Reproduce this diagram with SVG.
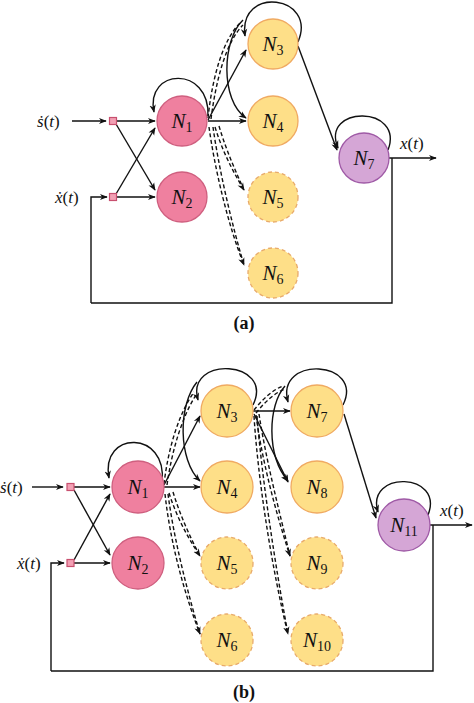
<svg xmlns="http://www.w3.org/2000/svg" width="474" height="703" viewBox="0 0 474 703">
<style>
.e{fill:none;stroke:#111;stroke-width:1.4}
.d{fill:none;stroke:#111;stroke-width:1.4;stroke-dasharray:4 2.5}
.pk{fill:#ef809f;stroke:#cf5f7f;stroke-width:1.3}
.yl{fill:#fedf88;stroke:#f0aa62;stroke-width:1.3}
.yd{fill:#fedf88;stroke:#e8aa6a;stroke-width:1.3;stroke-dasharray:4 3}
.pu{fill:#d5a6d6;stroke:#9f5aa6;stroke-width:1.3}
.sq{fill:#f2a0b4;stroke:#c8506f;stroke-width:1.2}
text{font-family:"Liberation Serif","DejaVu Serif","Times New Roman",serif;fill:#111}
.lbl{font-style:italic;font-size:21px;text-anchor:middle}
.sub{font-style:normal;font-size:14px}
.sig{font-size:17px}
.it{font-style:italic}
.cap{font-weight:bold;font-size:18px;text-anchor:middle}
</style>
<defs>
<marker id="ah" viewBox="0 0 10 10" refX="9" refY="5" markerWidth="8" markerHeight="8" orient="auto" markerUnits="userSpaceOnUse">
<path d="M0,1 L10,5 L0,9 L3,5 z" fill="#111"/>
</marker>
</defs>

<g id="connectors">
<!-- panel a -->
<path class="e" d="M72,121 L106,121" marker-end="url(#ah)"/>
<path class="e" d="M91,303 L91,197 L107,197" marker-end="url(#ah)"/>
<path class="e" d="M392,158 L392,303 L91,303"/>
<path class="e" d="M389,158 L436,158" marker-end="url(#ah)"/>
<path class="e" d="M117,121 L155,121" marker-end="url(#ah)"/>
<path class="e" d="M116,124 L155,190" marker-end="url(#ah)"/>
<path class="e" d="M116,194 L155,128" marker-end="url(#ah)"/>
<path class="e" d="M117,197 L155,197" marker-end="url(#ah)"/>
<path class="e" d="M208,116 C210,65 145,68 154,112" marker-end="url(#ah)"/>
<path class="e" d="M208,120 L246,50" marker-end="url(#ah)"/>
<path class="e" d="M208,121 L246,121" marker-end="url(#ah)"/>
<path class="e" d="M298,42 C318,-5 238,-15 245,36" marker-end="url(#ah)"/>
<path class="e" d="M243,20 C222,40 220,100 246,118" marker-end="url(#ah)"/>
<path class="d" d="M208,118 C212,80 222,40 241,22"/>
<path class="d" d="M211,119 C216,80 226,42 243,25"/>
<path class="d" d="M215,127 C222,150 232,170 244,190" marker-end="url(#ah)"/>
<path class="d" d="M219,126 C226,150 236,172 244,190"/>
<path class="d" d="M209,127 C215,170 228,225 244,265" marker-end="url(#ah)"/>
<path class="d" d="M213,127 C219,170 232,225 244,265"/>
<path class="e" d="M298,46 L337,150" marker-end="url(#ah)"/>
<path class="e" d="M388,150 C405,105 320,105 338,148" marker-end="url(#ah)"/>

<!-- panel b -->
<path class="e" d="M32,487 L63,487" marker-end="url(#ah)"/>
<path class="e" d="M51,671 L51,563 L64,563" marker-end="url(#ah)"/>
<path class="e" d="M433,525 L433,671 L51,671"/>
<path class="e" d="M430,525 L472,525" marker-end="url(#ah)"/>
<path class="e" d="M74,487 L110,487" marker-end="url(#ah)"/>
<path class="e" d="M74,490 L110,555" marker-end="url(#ah)"/>
<path class="e" d="M74,560 L110,494" marker-end="url(#ah)"/>
<path class="e" d="M74,563 L110,563" marker-end="url(#ah)"/>
<path class="e" d="M162,482 C168,430 100,430 109,478" marker-end="url(#ah)"/>
<path class="e" d="M164,485 L200,416" marker-end="url(#ah)"/>
<path class="e" d="M164,487 L200,487" marker-end="url(#ah)"/>
<path class="e" d="M253,405 C275,360 185,355 198,400" marker-end="url(#ah)"/>
<path class="e" d="M197,382 C178,405 178,460 200,481" marker-end="url(#ah)"/>
<path class="d" d="M164,484 C168,450 178,415 194,392"/>
<path class="d" d="M167,485 C172,450 182,417 196,395"/>
<path class="d" d="M169,493 C176,515 186,535 200,556" marker-end="url(#ah)"/>
<path class="d" d="M173,492 C180,515 190,537 200,556"/>
<path class="d" d="M165,494 C170,540 183,590 200,634" marker-end="url(#ah)"/>
<path class="d" d="M168,494 C174,540 187,590 200,634"/>
<path class="e" d="M253,411 L290,411" marker-end="url(#ah)"/>
<path class="e" d="M254,414 L288,482" marker-end="url(#ah)"/>
<path class="e" d="M285,386 C268,405 266,455 288,481" marker-end="url(#ah)"/>
<path class="e" d="M343,405 C365,360 275,355 288,402" marker-end="url(#ah)"/>
<path class="d" d="M254,410 C262,400 272,390 283,386"/>
<path class="d" d="M256,413 C264,403 274,393 285,389"/>
<path class="d" d="M256,415 C262,460 275,510 290,556" marker-end="url(#ah)"/>
<path class="d" d="M259,414 C266,460 279,510 290,556"/>
<path class="d" d="M254,416 C258,480 272,570 288,634" marker-end="url(#ah)"/>
<path class="d" d="M257,416 C262,480 276,570 288,634"/>
<path class="e" d="M344,414 L376,518" marker-end="url(#ah)"/>
<path class="e" d="M428,515 C445,472 365,470 378,512" marker-end="url(#ah)"/>
</g>

<!-- panel a nodes -->
<g id="a_sq1"><rect class="sq" x="109.5" y="117.5" width="7" height="7"/></g>
<g id="a_sq2"><rect class="sq" x="109.5" y="193.5" width="7" height="7"/></g>
<g id="a_N1"><circle class="pk" cx="182" cy="121" r="25"/><text class="lbl" x="182" y="128">N<tspan class="sub" dy="4">1</tspan></text></g>
<g id="a_N2"><circle class="pk" cx="182" cy="197" r="25"/><text class="lbl" x="182" y="204">N<tspan class="sub" dy="4">2</tspan></text></g>
<g id="a_N3"><circle class="yl" cx="273" cy="44" r="25"/><text class="lbl" x="273" y="51">N<tspan class="sub" dy="4">3</tspan></text></g>
<g id="a_N4"><circle class="yl" cx="273" cy="121" r="25"/><text class="lbl" x="273" y="128">N<tspan class="sub" dy="4">4</tspan></text></g>
<g id="a_N5"><circle class="yd" cx="273" cy="197" r="25"/><text class="lbl" x="273" y="204">N<tspan class="sub" dy="4">5</tspan></text></g>
<g id="a_N6"><circle class="yd" cx="273" cy="273" r="25"/><text class="lbl" x="273" y="280">N<tspan class="sub" dy="4">6</tspan></text></g>
<g id="a_N7"><circle class="pu" cx="364" cy="158" r="25"/><text class="lbl" x="364" y="165">N<tspan class="sub" dy="4">7</tspan></text></g>
<text class="sig" x="37" y="127"><tspan class="it">ṡ</tspan>(<tspan class="it">t</tspan>)</text>
<text class="sig" x="55" y="203"><tspan class="it">ẋ</tspan>(<tspan class="it">t</tspan>)</text>
<text class="sig" x="400" y="149"><tspan class="it">x</tspan>(<tspan class="it">t</tspan>)</text>
<text class="cap" x="244" y="329">(a)</text>

<!-- panel b nodes -->
<g id="b_sq1"><rect class="sq" x="67" y="483.5" width="7" height="7"/></g>
<g id="b_sq2"><rect class="sq" x="67" y="559.5" width="7" height="7"/></g>
<g id="b_N1"><circle class="pk" cx="138" cy="487" r="26"/><text class="lbl" x="138" y="494">N<tspan class="sub" dy="4">1</tspan></text></g>
<g id="b_N2"><circle class="pk" cx="138" cy="563" r="26"/><text class="lbl" x="138" y="570">N<tspan class="sub" dy="4">2</tspan></text></g>
<g id="b_N3"><circle class="yl" cx="227" cy="411" r="26"/><text class="lbl" x="227" y="418">N<tspan class="sub" dy="4">3</tspan></text></g>
<g id="b_N4"><circle class="yl" cx="227" cy="487" r="26"/><text class="lbl" x="227" y="494">N<tspan class="sub" dy="4">4</tspan></text></g>
<g id="b_N5"><circle class="yd" cx="227" cy="563" r="26"/><text class="lbl" x="227" y="570">N<tspan class="sub" dy="4">5</tspan></text></g>
<g id="b_N6"><circle class="yd" cx="227" cy="640" r="26"/><text class="lbl" x="227" y="647">N<tspan class="sub" dy="4">6</tspan></text></g>
<g id="b_N7"><circle class="yl" cx="317" cy="411" r="26"/><text class="lbl" x="317" y="418">N<tspan class="sub" dy="4">7</tspan></text></g>
<g id="b_N8"><circle class="yl" cx="317" cy="487" r="26"/><text class="lbl" x="317" y="494">N<tspan class="sub" dy="4">8</tspan></text></g>
<g id="b_N9"><circle class="yd" cx="317" cy="563" r="26"/><text class="lbl" x="317" y="570">N<tspan class="sub" dy="4">9</tspan></text></g>
<g id="b_N10"><circle class="yd" cx="317" cy="640" r="26"/><text class="lbl" x="317" y="647">N<tspan class="sub" dy="4">10</tspan></text></g>
<g id="b_N11"><circle class="pu" cx="404" cy="525" r="26"/><text class="lbl" x="404" y="532">N<tspan class="sub" dy="4">11</tspan></text></g>
<text class="sig" x="0" y="493"><tspan class="it">ṡ</tspan>(<tspan class="it">t</tspan>)</text>
<text class="sig" x="17" y="569"><tspan class="it">ẋ</tspan>(<tspan class="it">t</tspan>)</text>
<text class="sig" x="440" y="516"><tspan class="it">x</tspan>(<tspan class="it">t</tspan>)</text>
<text class="cap" x="244" y="698">(b)</text>
</svg>
